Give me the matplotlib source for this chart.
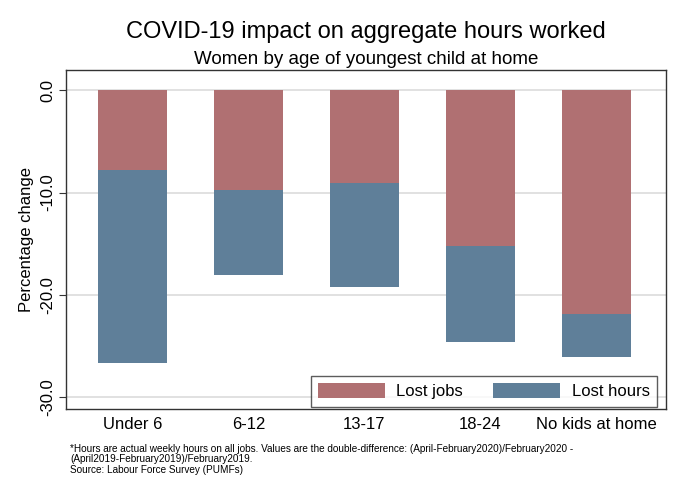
import numpy as np
import matplotlib.pyplot as plt

plt.rcParams['font.family'] = ['Liberation Sans', 'DejaVu Sans']

# data
groups = ['Under 6', '6-12', '13-17', '18-24', 'No kids at home']
lost_jobs = np.array([-7.8, -9.8, -9.1, -15.2, -21.9])
lost_hours = np.array([-18.9, -8.3, -10.2, -9.4, -4.2])
yticks = [0.0, -10.0, -20.0, -30.0]

RED = '#b07072'
BLUE = '#5f7f99'

fig = plt.figure(figsize=(6.8, 4.95), dpi=100)
ax = fig.add_axes([66/680, 1 - 409/495, 600/680, 339/495])

x = np.arange(len(groups))
ax.bar(x, lost_jobs, width=0.595, color=RED, label='Lost jobs', zorder=3)
ax.bar(x, lost_hours, bottom=lost_jobs, width=0.595, color=BLUE,
       label='Lost hours', zorder=3)

ax.set_xlim(-0.573, 4.6)
ax.set_ylim(-31.2, 2.0)
ax.set_yticks(yticks)
ax.set_yticklabels(['%.1f' % v for v in yticks], rotation=90, va='center', fontsize=12)
ax.set_xticks(x)
ax.set_xticklabels(groups, fontsize=12)
ax.tick_params(axis='x', length=0, pad=6)
ax.tick_params(axis='y', length=5, color='#333333', pad=3)
ax.yaxis.grid(True, color='#dcdcdc', linewidth=1.2, zorder=0)
ax.set_ylabel('Percentage change', fontsize=12, labelpad=4)
for s in ax.spines.values():
    s.set_color('#333333')
    s.set_linewidth(1.0)

leg = ax.legend(loc='lower right', ncol=2, fontsize=12, frameon=True, fancybox=False,
                edgecolor='#333333', borderpad=0.45, handlelength=4.0, handleheight=1.0,
                columnspacing=1.8, handletextpad=0.7, borderaxespad=0,
                bbox_to_anchor=(0.985, 0.006))
leg.get_frame().set_linewidth(1.0)

cx = (66 + 666) / 2 / 680
fig.text(cx, 1 - 32/495, 'COVID-19 impact on aggregate hours worked', ha='center',
         va='center', fontsize=17)
fig.text(cx, 1 - 59/495, 'Women by age of youngest child at home', ha='center',
         va='center', fontsize=13.5)
fig.text(70/680, 1 - 444/495,
         '*Hours are actual weekly hours on all jobs. Values are the double-difference: '
         '(April-February2020)/February2020 -\n(April2019-February2019)/February2019.\n'
         'Source: Labour Force Survey (PUMFs)',
         ha='left', va='top', fontsize=7.2, linespacing=1.05)

fig.savefig('out.png', dpi=100)
